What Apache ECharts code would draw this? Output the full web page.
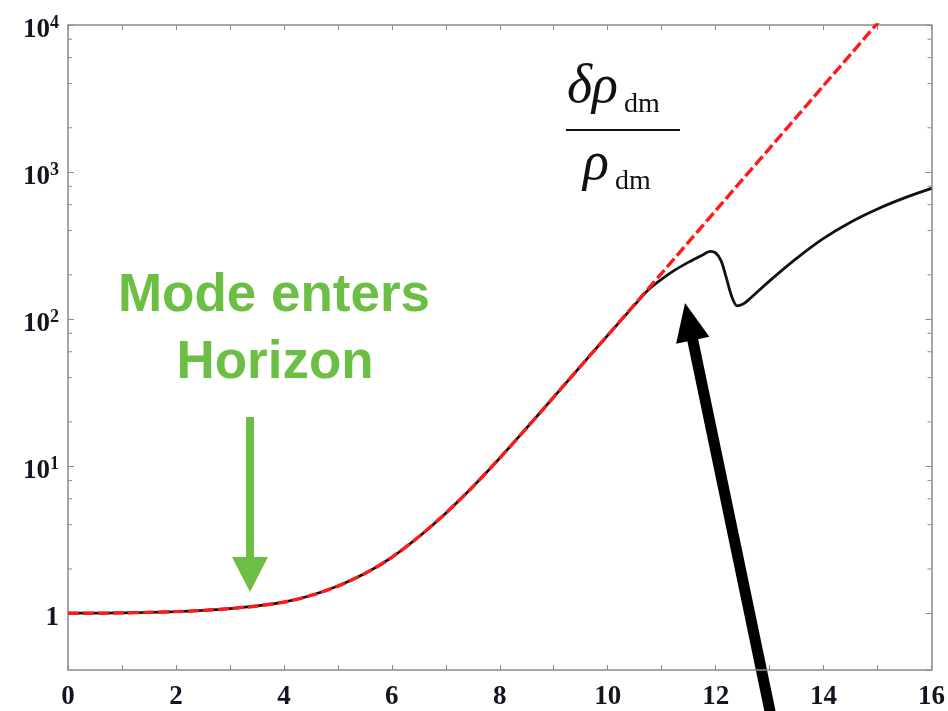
<!DOCTYPE html>
<html>
<head>
<meta charset="utf-8">
<script src="https://cdn.jsdelivr.net/npm/echarts@6/dist/echarts.min.js"></script>
<style>
  html, body { margin: 0; padding: 0; background: #ffffff; }
  #chart { width: 948px; height: 711px; }
</style>
</head>
<body>
<div id="chart"></div>
<script>
// Linear-theory growth of the dark-matter density contrast (dashed red)
const linearX = [0, 0.5, 1, 1.5, 2, 2.5, 3, 3.5, 4, 4.5, 5, 5.5, 6, 6.5, 7, 7.5, 8, 8.5, 9, 9.5, 10, 10.5, 11, 11.5, 12, 12.5, 13, 13.5, 14, 14.5, 15, 15.5, 16];
const linearY = [1.00, 1.00, 1.005, 1.013, 1.025, 1.045, 1.075, 1.12, 1.19, 1.32, 1.53, 1.86, 2.40, 3.31, 4.79, 7.24, 11.35, 18.2, 29.5, 47.9, 77.6, 126, 205, 335, 546, 891, 1450, 2370, 3870, 6310, 10300, 16800, 27400];

// Full evolution of the same mode (solid black)
const fullX = [0, 0.5, 1, 1.5, 2, 2.5, 3, 3.5, 4, 4.5, 5, 5.5, 6, 6.5, 7, 7.5, 8, 8.5, 9, 9.5, 10, 10.5, 10.75, 11, 11.25, 11.5, 11.75, 11.9, 12.0, 12.1, 12.2, 12.3, 12.4, 12.5, 12.6, 13.0, 13.5, 14.0, 14.5, 15.0, 15.5, 16.0];
const fullY = [1.00, 1.00, 1.005, 1.013, 1.025, 1.045, 1.075, 1.12, 1.19, 1.32, 1.53, 1.86, 2.40, 3.31, 4.79, 7.24, 11.35, 18.2, 29.5, 47.9, 77.6, 125, 158, 187, 216, 244, 272, 289, 282, 250, 190, 142, 123, 126, 134, 182, 259, 354, 456, 561, 667, 774];

// Axis ranges and tick values
const xMin = 0, xMax = 16, xStep = 1;
const yMin = 0.411, yMax = 10000;
const yMinorTicks = [2, 4, 6, 8, 20, 40, 60, 80, 200, 400, 600, 800, 2000, 4000, 6000, 8000];

// Text
const annotationLines = ['Mode enters', 'Horizon'];
const fractionNumerator = ['δρ', 'dm'];
const fractionDenominator = ['ρ', 'dm'];

const frameColor = '#8a8a8a';
const labelColor = '#141420';
const green = '#6dbe45';

const chart = echarts.init(document.getElementById('chart'), null, { renderer: 'canvas' });

function yLabel(v) {
  const l = Math.log10(v);
  const e = Math.round(l);
  if (Math.abs(l - e) > 1e-6) return '';
  return e === 0 ? '{b|1}' : '{b|10}{s|' + e + '}';
}

const labelRich = {
  b: { fontFamily: 'Liberation Serif', fontWeight: 'bold', fontSize: 27, color: labelColor },
  s: { fontFamily: 'Liberation Serif', fontWeight: 'bold', fontSize: 18, color: labelColor, padding: [0, 0, 14, 0] }
};

const xAxisBase = {
  type: 'value', min: xMin, max: xMax, interval: xStep,
  axisLine: { show: true, onZero: false, lineStyle: { color: frameColor, width: 1.5 } },
  axisTick: { show: true, inside: true, length: 5, lineStyle: { color: frameColor, width: 1 } },
  splitLine: { show: false }
};
const yAxisBase = {
  type: 'log', logBase: 10, min: yMin, max: yMax,
  axisLine: { show: true, onZero: false, lineStyle: { color: frameColor, width: 1.5 } },
  axisTick: { show: true, inside: true, length: 6, lineStyle: { color: frameColor, width: 1 } },
  splitLine: { show: false }
};

chart.setOption({
  animation: false,
  backgroundColor: '#ffffff',
  grid: { left: 68, right: 16, top: 25, bottom: 39, containLabel: false },
  xAxis: [
    Object.assign({}, xAxisBase, {
      position: 'bottom',
      axisLabel: {
        margin: 14,
        fontFamily: 'Liberation Serif', fontWeight: 'bold', fontSize: 27, color: labelColor,
        formatter: v => (Math.round(v) % 2 === 0 ? String(v) : '')
      }
    }),
    Object.assign({}, xAxisBase, { position: 'top', axisLabel: { show: false } })
  ],
  yAxis: [
    Object.assign({}, yAxisBase, {
      position: 'left',
      axisLabel: { margin: 9, padding: [10, 0, 0, 0], formatter: yLabel, rich: labelRich, showMinLabel: false }
    }),
    Object.assign({}, yAxisBase, { position: 'right', axisLabel: { show: false } })
  ],
  series: [
    {
      name: 'full', type: 'line', xAxisIndex: 0, yAxisIndex: 0,
      data: fullX.map((x, i) => [x, fullY[i]]),
      showSymbol: false, smooth: 0.3,
      lineStyle: { color: '#111111', width: 2.8 },
      z: 2
    },
    {
      name: 'linear', type: 'line', xAxisIndex: 0, yAxisIndex: 0,
      data: linearX.map((x, i) => [x, linearY[i]]),
      showSymbol: false, smooth: 0.3,
      lineStyle: { color: '#ff1a1a', width: 3.4, type: [11, 4] },
      z: 3
    }
  ]
});

// Minor log ticks on both vertical edges, placed through the axis scale
const xLeft = chart.convertToPixel({ xAxisIndex: 0 }, xMin);
const xRight = chart.convertToPixel({ xAxisIndex: 0 }, xMax);
const minorTickShapes = [];
yMinorTicks.forEach(v => {
  const y = chart.convertToPixel({ yAxisIndex: 0 }, v);
  minorTickShapes.push({ type: 'line', shape: { x1: xLeft, y1: y, x2: xLeft + 4, y2: y }, style: { stroke: frameColor, lineWidth: 1 }, silent: true });
  minorTickShapes.push({ type: 'line', shape: { x1: xRight - 4, y1: y, x2: xRight, y2: y }, style: { stroke: frameColor, lineWidth: 1 }, silent: true });
});

// Arrow pointing at where the full curve departs from linear growth
const tip = [685, 303], tail = [771, 716];
const len = Math.hypot(tail[0] - tip[0], tail[1] - tip[1]);
const u = [(tail[0] - tip[0]) / len, (tail[1] - tip[1]) / len];
const n = [u[1], -u[0]];
const headLen = 38, headHalf = 17;
const base = [tip[0] + u[0] * headLen, tip[1] + u[1] * headLen];

// Fraction layout: the subscript follows the measured width of the symbol
const mathFont = 'italic 54px "Liberation Serif", serif';
const subFont = '28px "Liberation Serif", serif';
const measureCtx = document.createElement('canvas').getContext('2d');
measureCtx.font = mathFont;
const numW = measureCtx.measureText(fractionNumerator[0]).width;
const denW = measureCtx.measureText(fractionDenominator[0]).width;
const numLeft = 567, denLeft = 583;

const graphics = minorTickShapes.concat([
  // horizon-entry annotation
  { type: 'text', x: 274, y: 296, style: { text: annotationLines[0], font: 'bold 53px "Liberation Sans", Arial, sans-serif', fill: green, align: 'center', verticalAlign: 'middle' } },
  { type: 'text', x: 275, y: 363, style: { text: annotationLines[1], font: 'bold 53px "Liberation Sans", Arial, sans-serif', fill: green, align: 'center', verticalAlign: 'middle' } },
  { type: 'rect', shape: { x: 246, y: 417, width: 8, height: 142 }, style: { fill: green } },
  { type: 'polygon', shape: { points: [[232, 557], [268, 557], [250, 592]] }, style: { fill: green } },
  // black arrow
  { type: 'line', shape: { x1: base[0] - u[0] * 2, y1: base[1] - u[1] * 2, x2: tail[0], y2: tail[1] }, style: { stroke: '#000000', lineWidth: 11 } },
  { type: 'polygon', shape: { points: [tip, [base[0] + n[0] * headHalf, base[1] + n[1] * headHalf], [base[0] - n[0] * headHalf, base[1] - n[1] * headHalf]] }, style: { fill: '#000000' } },
  // density-contrast fraction
  { type: 'text', x: numLeft, y: 88, style: { text: fractionNumerator[0], font: mathFont, fill: '#111111', align: 'left', verticalAlign: 'middle' } },
  { type: 'text', x: numLeft + numW + 6, y: 105, style: { text: fractionNumerator[1], font: subFont, fill: '#111111', align: 'left', verticalAlign: 'middle' } },
  { type: 'line', shape: { x1: 566, y1: 130, x2: 680, y2: 130 }, style: { stroke: '#111111', lineWidth: 2 } },
  { type: 'text', x: denLeft, y: 165, style: { text: fractionDenominator[0], font: mathFont, fill: '#111111', align: 'left', verticalAlign: 'middle' } },
  { type: 'text', x: denLeft + denW + 6, y: 182, style: { text: fractionDenominator[1], font: subFont, fill: '#111111', align: 'left', verticalAlign: 'middle' } }
]);

chart.setOption({ graphic: { elements: graphics } });
</script>
</body>
</html>
